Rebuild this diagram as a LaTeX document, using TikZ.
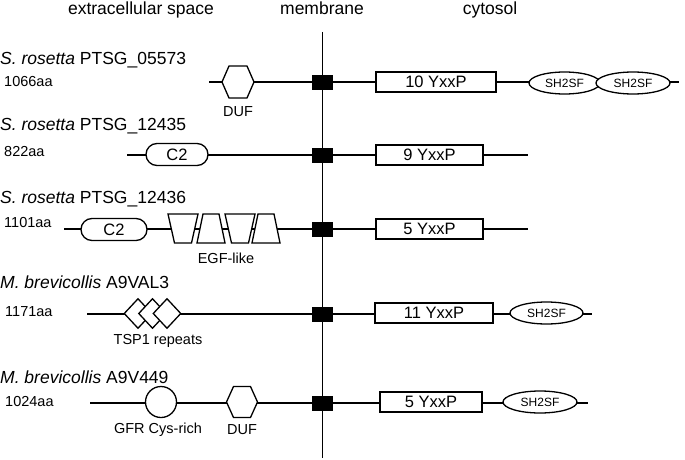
\documentclass[tikz,border=0pt]{standalone}
\usepackage{fontspec}
\setmainfont{Liberation Sans}
\usetikzlibrary{shapes.geometric,shapes.misc,calc}
\begin{document}
\begin{tikzpicture}[x=1pt,y=-1pt,
 ln/.style={line width=1.3pt},
 dom/.style={draw, line width=1.3pt, fill=white},
 yxxp/.style={dom, rectangle, minimum width=#1, minimum height=20pt, inner sep=0pt, font=\fontsize{16.5}{18}\selectfont},
 sh/.style={dom, ellipse, minimum width=#1, minimum height=22pt, inner sep=0pt, font=\fontsize{12}{13}\selectfont},
 ctwo/.style={dom, rounded rectangle, minimum width=#1, minimum height=22pt, inner sep=0pt, font=\fontsize{16.5}{18}\selectfont},
 tm/.style={fill=black, rectangle, minimum width=21pt, minimum height=15pt, inner sep=0pt},
 hdr/.style={anchor=base, inner sep=0pt, font=\fontsize{17.5}{20}\selectfont},
 ttl/.style={anchor=base west, inner sep=0pt, font=\fontsize{17.5}{20}\selectfont},
 aa/.style={anchor=west, inner sep=0pt, font=\fontsize{14.5}{16}\selectfont},
 lbl/.style={inner sep=0pt, font=\fontsize{14.5}{16}\selectfont},
 dia/.style={dom, diamond, minimum width=28pt, minimum height=30pt, inner sep=0pt},
]
\useasboundingbox (0,0) rectangle (685,460);

% headers
\node[hdr] (hext) at (141,14.5) {extracellular space};
\node[hdr] (hmem) at (322,14.5) {membrane};
\node[hdr] (hcyt) at (490,14.5) {cytosol};

% membrane
\coordinate (mtop) at (322.5,32);
\coordinate (mbot) at (322.5,458);
\draw[ln] (mtop) -- (mbot);

% ---------- row 1
\node[ttl] (t1) at (0,65) {\textit{S. rosetta} PTSG\_05573};
\node[aa] (a1) at (4,81.5) {1066aa};
\coordinate (r1s) at (209,82);
\coordinate (r1e) at (679,82);
\draw[ln] (r1s) -- (r1e);
\coordinate (duf1) at (238,82);
\draw[dom, shift={(duf1)}] (-16,0) -- (-9,-16) -- (9,-16) -- (16,0) -- (9,16) -- (-9,16) -- cycle;
\node[lbl] (duf1l) at (238,112) {DUF};
\node[tm] (m1) at (322.5,82) {};
\node[yxxp=120pt] (b1) at (436,82) {10 YxxP};
\node[sh=71pt] (s1a) at (564.5,83) {SH2SF};
\node[sh=74pt] (s1b) at (633,83) {SH2SF};

% ---------- row 2
\node[ttl] (t2) at (0,130) {\textit{S. rosetta} PTSG\_12435};
\node[aa] (a2) at (4,152) {822aa};
\coordinate (r2s) at (127,155);
\coordinate (r2e) at (528,155);
\draw[ln] (r2s) -- (r2e);
\node[ctwo=62pt] (c2a) at (177,154.5) {C2};
\node[tm] (m2) at (322.5,155) {};
\node[yxxp=107pt] (b2) at (429.5,155) {9 YxxP};

% ---------- row 3
\node[ttl] (t3) at (0,203) {\textit{S. rosetta} PTSG\_12436};
\node[aa] (a3) at (4,223) {1101aa};
\coordinate (r3s) at (64,229);
\coordinate (r3e) at (528,229);
\draw[ln] (r3s) -- (r3e);
\node[ctwo=66pt] (c2b) at (114,229.5) {C2};
\coordinate (e1) at (183,228.5);
\coordinate (e2) at (211,228.5);
\coordinate (e3) at (240,228.5);
\coordinate (e4) at (266,228.5);
\draw[dom, shift={(e1)}] (-15,-14.5) -- (15,-14.5) -- (8.5,14.5) -- (-8.5,14.5) -- cycle;
\draw[dom, shift={(e2)}] (-8,-14.5) -- (8,-14.5) -- (14,14.5) -- (-14,14.5) -- cycle;
\draw[dom, shift={(e3)}] (-15,-14.5) -- (15,-14.5) -- (8.5,14.5) -- (-8.5,14.5) -- cycle;
\draw[dom, shift={(e4)}] (-8,-14.5) -- (8,-14.5) -- (14,14.5) -- (-14,14.5) -- cycle;
\node[lbl] (egfl) at (226,258) {EGF-like};
\node[tm] (m3) at (322.5,229) {};
\node[yxxp=107pt] (b3) at (429.5,229) {5 YxxP};

% ---------- row 4
\node[ttl] (t4) at (0,288) {\textit{M. brevicollis} A9VAL3};
\node[aa] (a4) at (5,312) {1171aa};
\coordinate (r4s) at (87,314);
\coordinate (r4e) at (592,314);
\draw[ln] (r4s) -- (r4e);
\node[dia] (d1) at (138,313.5) {};
\node[dia] (d2) at (152.5,313.5) {};
\node[dia] (d3) at (167,313.5) {};
\node[lbl] (tspl) at (158,341) {TSP1 repeats};
\node[tm] (m4) at (322.5,314) {};
\node[yxxp=118pt] (b4) at (434,313) {11 YxxP};
\node[sh=73pt] (s4) at (546.5,313) {SH2SF};

% ---------- row 5
\node[ttl] (t5) at (0,383) {\textit{M. brevicollis} A9V449};
\node[aa] (a5) at (5,402) {1024aa};
\coordinate (r5s) at (90,403);
\coordinate (r5e) at (588,403);
\draw[ln] (r5s) -- (r5e);
\node[dom, circle, minimum size=31pt, inner sep=0pt] (gfr) at (161,402) {};
\coordinate (duf2) at (242,402);
\draw[dom, shift={(duf2)}] (-15.5,0) -- (-8.5,-15.5) -- (8.5,-15.5) -- (15.5,0) -- (8.5,15.5) -- (-8.5,15.5) -- cycle;
\node[lbl] (gfrl) at (158,430) {GFR Cys-rich};
\node[lbl] (duf2l) at (242,430) {DUF};
\node[tm] (m5) at (322.5,403) {};
\node[yxxp=102pt] (b5) at (431,402) {5 YxxP};
\node[sh=74pt] (s5) at (540,402) {SH2SF};
\end{tikzpicture}
\end{document}
